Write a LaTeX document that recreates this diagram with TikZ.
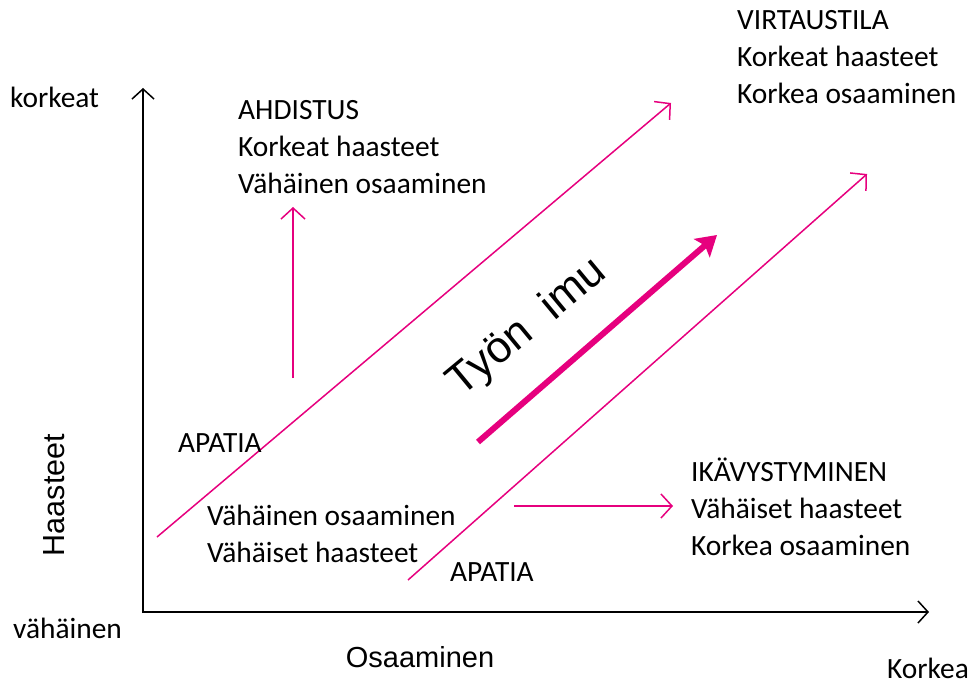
\documentclass[tikz,border=0pt]{standalone}
\usepackage{fontspec}
\setmainfont{Carlito}
\newfontfamily\arialf{Liberation Sans}
\usetikzlibrary{arrows.meta}
\definecolor{pinkline}{RGB}{230,0,126}
\begin{document}
\begin{tikzpicture}[x=1pt,y=-1pt,
  lbl/.style={inner sep=0pt,anchor=west,align=left,font=\fontsize{29.4}{37}\selectfont},
  axis/.style={draw=black,line width=1.5pt,-{Straight Barb[length=10pt,width=22pt,line width=1.5pt]}},
  thin/.style={draw=pinkline,line width=1.5pt,-{Straight Barb[length=11pt,width=24pt,line width=1.5pt]}},
  thick/.style={draw=pinkline,line width=6pt,-{Stealth[length=20pt,width=24pt,inset=4pt]}}]
\useasboundingbox (0,0) rectangle (973,684);
% axes
\coordinate (o) at (143,612);
\coordinate (ytop) at (143,88);
\coordinate (xend) at (929,612);
\draw[axis] (143,613) -- (ytop);
\draw[axis] (142,612) -- (xend);
% pink lines
\coordinate (l1a) at (157,537); \coordinate (l1b) at (671,103);
\coordinate (l2a) at (408,580); \coordinate (l2b) at (867,174);
\coordinate (ta) at (478,442); \coordinate (tb) at (717,235);
\coordinate (va) at (293,378); \coordinate (vb) at (293,207);
\coordinate (ha) at (514,506); \coordinate (hb) at (673,506);
\draw[thin] (l1a) -- (l1b);
\draw[thin] (l2a) -- (l2b);
\draw[thin] (va) -- (vb);
\draw[thin] (ha) -- (hb);
\draw[thick] (ta) -- (tb);
% labels
\node[lbl] (ahd) at (238,147) {AHDISTUS\\Korkeat haasteet\\Vähäinen osaaminen};
\node[lbl] (virt) at (737,57) {VIRTAUSTILA\\Korkeat haasteet\\Korkea osaaminen};
\node[lbl] (ikav) at (691,507) {IKÄVYSTYMINEN\\Vähäiset haasteet\\Korkea osaaminen};
\node[lbl] (ap1) at (178,443) {APATIA};
\node[lbl] (vv) at (207,534) {Vähäinen osaaminen\\Vähäiset haasteet};
\node[lbl] (ap2) at (450,572) {APATIA};
\node[lbl] (korkeat) at (10,97) {korkeat};
\node[lbl] (vahainen) at (13,628) {vähäinen};
\node[lbl] (korkea) at (887,668) {Korkea};
\node[inner sep=0pt,font=\arialf\fontsize{29}{32}\selectfont] (osa) at (420,657) {Osaaminen};
\node[inner sep=0pt,font=\arialf\fontsize{30.5}{34}\selectfont,rotate=90] (haa) at (54,495) {Haasteet};
\node[inner sep=0pt,font=\arialf\fontsize{44}{50}\selectfont,rotate=39.6] (imu) at (528,328) {Työn\ \ imu};
\end{tikzpicture}
\end{document}
